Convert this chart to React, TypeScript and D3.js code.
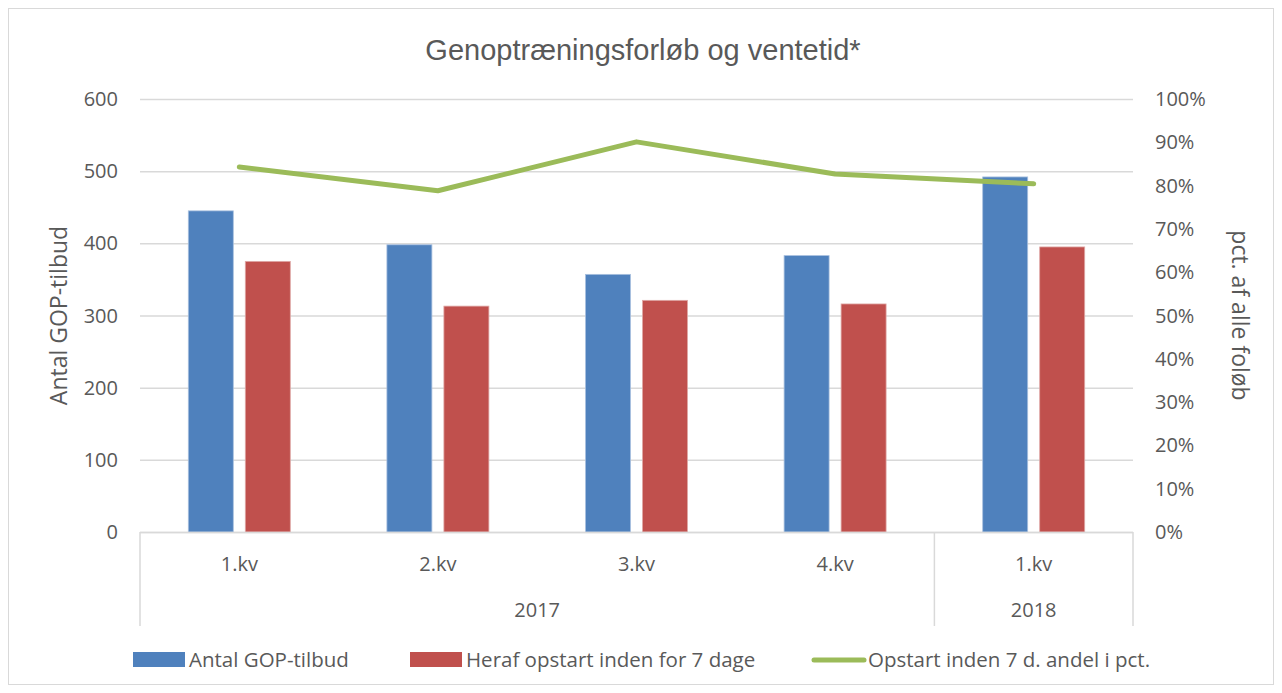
import { useEffect, useRef } from 'react'
import * as d3 from 'd3'

const quarters = ['1.kv', '2.kv', '3.kv', '4.kv', '1.kv']
const years = ['2017', '2017', '2017', '2017', '2018']
const antalGop = [445, 398, 357, 383, 492]
const herafOpstart = [375, 313, 321, 316, 395]
const andelPct = [0.843, 0.788, 0.901, 0.827, 0.804]
const leftTicks = [0, 100, 200, 300, 400, 500, 600]
const rightTicks = [0, 0.1, 0.2, 0.3, 0.4, 0.5, 0.6, 0.7, 0.8, 0.9, 1]

export default function App() {
  const svgRef = useRef<SVGSVGElement>(null)

  useEffect(() => {
    if (!svgRef.current) return
    const width = 1282
    const height = 693
    const font = '"Open Sans", sans-serif'
    const titleFont = 'Liberation Sans, Arial, sans-serif'
    const textColor = '#595959'

    const svg = d3.select(svgRef.current)
    svg.selectAll('*').remove()
    svg.attr('width', width).attr('height', height)

    // chart frame
    svg.append('rect')
      .attr('x', 8.5).attr('y', 8.5)
      .attr('width', 1265).attr('height', 676)
      .attr('fill', '#fff').attr('stroke', '#d9d9d9')

    const left = 140
    const right = 1133
    const top = 99
    const bottom = 532

    const idx = quarters.map((_, i) => i)
    const x = d3.scaleBand<number>().domain(idx).range([left, right])
    const y = d3.scaleLinear().domain([0, 600]).range([bottom, top])
    const y2 = d3.scaleLinear().domain([0, 1]).range([bottom, top])

    // title
    svg.append('text')
      .attr('x', 643).attr('y', 60)
      .attr('text-anchor', 'middle')
      .style('font-family', titleFont).style('font-size', '29px')
      .attr('fill', textColor)
      .text('Genoptræningsforløb og ventetid*')

    // gridlines
    svg.append('g').selectAll('line').data(leftTicks).enter().append('line')
      .attr('x1', left).attr('x2', right)
      .attr('y1', d => y(d) + 0.5).attr('y2', d => y(d) + 0.5)
      .attr('stroke', '#d9d9d9').attr('stroke-width', 1.5)

    // left ticks
    svg.append('g').selectAll('text').data(leftTicks).enter().append('text')
      .attr('x', 118).attr('y', d => y(d) + 7)
      .attr('text-anchor', 'end')
      .style('font-family', font).style('font-size', '20px')
      .attr('fill', textColor)
      .text(d => d)

    // right ticks
    svg.append('g').selectAll('text').data(rightTicks).enter().append('text')
      .attr('x', 1155).attr('y', d => y2(d) + 7)
      .style('font-family', font).style('font-size', '20px')
      .attr('fill', textColor)
      .text(d => d3.format('.0%')(d))

    // axis titles
    svg.append('text')
      .attr('transform', `translate(67, ${(top + bottom) / 2}) rotate(-90)`)
      .attr('text-anchor', 'middle')
      .style('font-family', font).style('font-size', '23px')
      .attr('fill', textColor)
      .text('Antal GOP-tilbud')
    svg.append('text')
      .attr('transform', `translate(1232, ${(top + bottom) / 2}) rotate(90)`)
      .attr('text-anchor', 'middle')
      .style('font-family', font).style('font-size', '23px')
      .attr('fill', textColor)
      .text('pct. af alle foløb')

    // bars
    const bw = 45
    const gap = 12
    svg.append('g').selectAll('rect').data(antalGop).enter().append('rect')
      .attr('x', (_, i) => x(i)! + x.bandwidth() / 2 - gap / 2 - bw)
      .attr('y', d => y(d)).attr('width', bw).attr('height', d => bottom - y(d))
      .attr('fill', '#4f81bd').attr('stroke', '#a9c0df').attr('stroke-width', 0.8)
    svg.append('g').selectAll('rect').data(herafOpstart).enter().append('rect')
      .attr('x', (_, i) => x(i)! + x.bandwidth() / 2 + gap / 2)
      .attr('y', d => y(d)).attr('width', bw).attr('height', d => bottom - y(d))
      .attr('fill', '#c0504d').attr('stroke', '#dfa8a6').attr('stroke-width', 0.8)

    // line
    const line = d3.line<number>()
      .x((_, i) => x(i)! + x.bandwidth() / 2)
      .y(d => y2(d))
    svg.append('path').datum(andelPct)
      .attr('d', line)
      .attr('fill', 'none').attr('stroke', '#9bbb59')
      .attr('stroke-width', 5).attr('stroke-linecap', 'round').attr('stroke-linejoin', 'round')

    // category axis
    const axisG = svg.append('g').attr('stroke', '#d9d9d9').attr('stroke-width', 1.5)
    axisG.append('line').attr('x1', left).attr('x2', right).attr('y1', bottom + 0.5).attr('y2', bottom + 0.5)
    const seps = [0, 4, 5]
    seps.forEach(i => {
      const xx = i < 5 ? x(i)! : right
      axisG.append('line').attr('x1', xx).attr('x2', xx).attr('y1', bottom).attr('y2', 626)
    })

    svg.append('g').selectAll('text').data(quarters).enter().append('text')
      .attr('x', (_, i) => x(i)! + x.bandwidth() / 2).attr('y', 571)
      .attr('text-anchor', 'middle')
      .style('font-family', font).style('font-size', '20px')
      .attr('fill', textColor)
      .text(d => d)

    const yearGroups = d3.groups(idx, i => years[i])
    svg.append('g').selectAll('text').data(yearGroups).enter().append('text')
      .attr('x', d => (x(d[1][0])! + x(d[1][d[1].length - 1])! + x.bandwidth()) / 2)
      .attr('y', 617)
      .attr('text-anchor', 'middle')
      .style('font-family', font).style('font-size', '20px')
      .attr('fill', textColor)
      .text(d => d[0])

    // legend
    const legend = [
      { name: 'Antal GOP-tilbud', color: '#4f81bd', type: 'bar', x: 133 },
      { name: 'Heraf opstart inden for 7 dage', color: '#c0504d', type: 'bar', x: 410 },
      { name: 'Opstart inden 7 d. andel i pct.', color: '#9bbb59', type: 'line', x: 812 },
    ]
    const lg = svg.append('g')
    legend.forEach(l => {
      if (l.type === 'bar') {
        lg.append('rect').attr('x', l.x).attr('y', 652).attr('width', 52).attr('height', 15).attr('fill', l.color)
      } else {
        lg.append('line').attr('x1', l.x + 2).attr('x2', l.x + 52).attr('y1', 660).attr('y2', 660)
          .attr('stroke', l.color).attr('stroke-width', 5).attr('stroke-linecap', 'round')
      }
      lg.append('text')
        .attr('x', l.x + 56).attr('y', 667)
        .style('font-family', font).style('font-size', '20.5px')
        .attr('fill', textColor)
        .text(l.name)
    })
  }, [])

  return <svg ref={svgRef} style={{ display: 'block', position: 'absolute', left: 0, top: 0 }}></svg>
}
